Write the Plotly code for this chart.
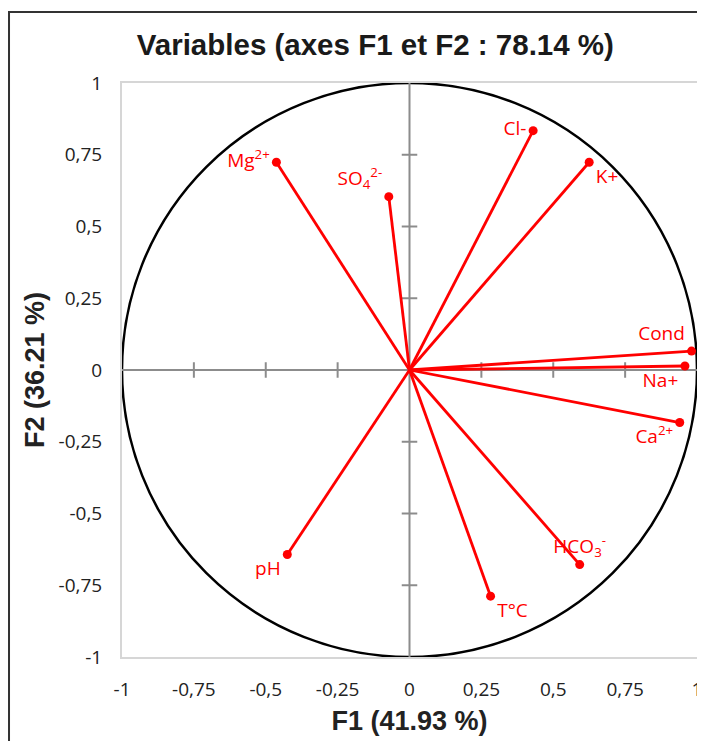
import plotly.graph_objects as go

variables = ["Cl-", "K+", "Mg<sup>2+</sup>", "SO<sub>4</sub><sup>2-</sup>", "Cond", "Na+",
             "Ca<sup>2+</sup>", "HCO<sub>3</sub><sup>-</sup>", "T°C", "pH"]
f1 = [0.430, 0.625, -0.463, -0.072, 0.981, 0.958, 0.940, 0.592, 0.282, -0.425]
f2 = [0.834, 0.724, 0.724, 0.604, 0.066, 0.014, -0.183, -0.678, -0.788, -0.643]
label_pos = ["middle left", "bottom right", "middle left", "top left", "top left",
             "bottom left", "bottom left", "top center", "bottom right", "bottom left"]

tick_vals = [-1, -0.75, -0.5, -0.25, 0, 0.25, 0.5, 0.75, 1]
tick_text = ["-1", "-0,75", "-0,5", "-0,25", "0", "0,25", "0,5", "0,75", "1"]

RED = "#FF0000"
GRAY = "#8C8C8C"
LABEL_FONT = "Open Sans, Noto Sans, sans-serif"
TITLE_FONT = "Liberation Sans, Arial, sans-serif"

fig = go.Figure()

# cross ticks on the zero axes
tl = 0.027
tx, ty = [], []
for v in tick_vals:
    if v in (-1, 0, 1):
        continue
    tx += [v, v, None]
    ty += [-tl, tl, None]
    tx += [-tl, tl, None]
    ty += [v, v, None]
fig.add_trace(go.Scatter(x=tx, y=ty, mode="lines", line=dict(color=GRAY, width=2),
                         hoverinfo="skip", showlegend=False))

# vectors
lx, ly = [], []
for a, b in zip(f1, f2):
    lx += [0, a, None]
    ly += [0, b, None]
fig.add_trace(go.Scatter(x=lx, y=ly, mode="lines", line=dict(color=RED, width=2.8),
                         hoverinfo="skip", showlegend=False))
fig.add_trace(go.Scatter(x=f1, y=f2, mode="markers+text", text=variables,
                         textposition=label_pos,
                         textfont=dict(family=LABEL_FONT, size=19, color=RED),
                         marker=dict(color=RED, size=9), showlegend=False,
                         cliponaxis=False))

fig.update_layout(
    width=697, height=733,
    margin=dict(l=114, r=8, t=75, b=84),
    paper_bgcolor="white", plot_bgcolor="white",
    title=dict(text="<b>Variables (axes F1 et F2 : 78.14 %)</b>", x=0.527, xanchor="center",
               y=1 - 37 / 733, yanchor="middle",
               font=dict(family=TITLE_FONT, size=29.5, color="#1a1a1a")),
    shapes=[
        dict(type="circle", xref="x", yref="y", x0=-1, y0=-1, x1=1, y1=1,
             line=dict(color="black", width=2.5), layer="below"),
        dict(type="line", xref="x", yref="y", x0=-1, x1=1, y0=0, y1=0,
             line=dict(color=GRAY, width=2), layer="below"),
        dict(type="line", xref="x", yref="y", x0=0, x1=0, y0=-1, y1=1,
             line=dict(color=GRAY, width=2), layer="below"),
        dict(type="rect", xref="paper", yref="paper", x0=-0.1965, x1=1.1, y0=-0.2, y1=1.1237,
             line=dict(color="#333333", width=2), layer="below"),
    ],
)
axis_common = dict(range=[-1, 1], tickvals=tick_vals, ticktext=tick_text, showgrid=False,
                   zeroline=False, showline=True, mirror=True, linecolor="#D6D6D6", linewidth=2,
                   ticks="", automargin=False, ticklabeloverflow="allow",
                   tickfont=dict(family=LABEL_FONT, size=19, color="#222222"),
                   fixedrange=True)
fig.update_xaxes(**axis_common,
                 title=dict(text="<b>F1 (41.93 %)</b>", standoff=10,
                            font=dict(family=TITLE_FONT, size=27, color="#222222")))
fig.update_yaxes(**axis_common,
                 title=dict(text="<b>F2 (36.21 %)</b>", standoff=6,
                            font=dict(family=TITLE_FONT, size=27, color="#222222")))
fig.update_xaxes(ticklabelstandoff=14)
fig.update_yaxes(ticklabelstandoff=14)

fig.write_html("out.html", post_script="document.body.style.overflow='hidden';")
